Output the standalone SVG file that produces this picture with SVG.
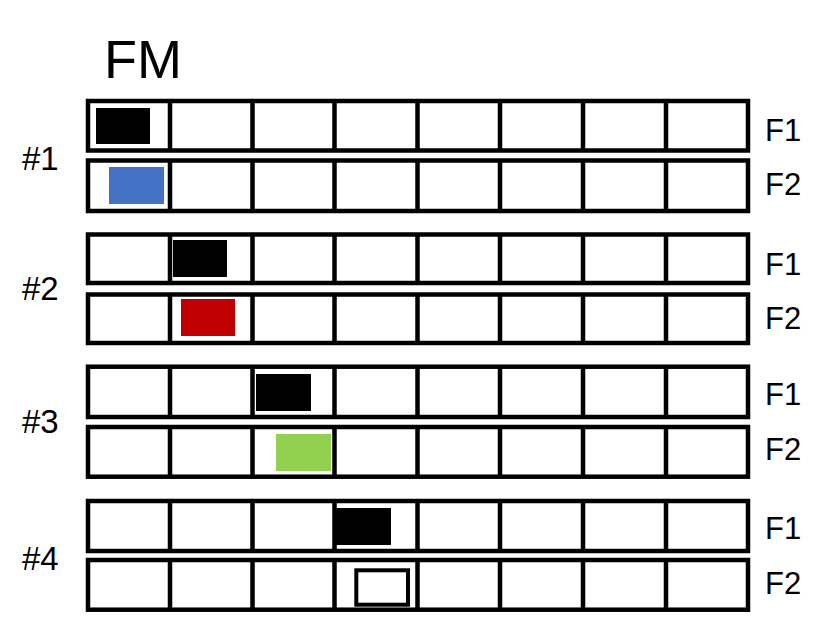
<svg xmlns="http://www.w3.org/2000/svg" width="824" height="628" viewBox="0 0 824 628">
<style>
.row{fill:#fff;stroke:#000;stroke-width:4.5}
.div{stroke:#000;stroke-width:4.5;fill:none}
.t{font-family:"Liberation Sans",Arial,sans-serif;fill:#000}
.lbl{font-size:31px}
.grp{font-size:33px}
</style>
<defs>
<path id="dv" d="M170 0V50M252.5 0V50M334.5 0V50M417.5 0V50M500 0V50M583 0V50M666 0V50" class="div"/>
</defs>
<rect width="824" height="628" fill="#fff"/>
<text class="t" x="104" y="78" font-size="54">FM</text>

<g id="g1">
  <g id="g1f1"><rect class="row" x="88" y="101" width="660" height="49.5"/><use href="#dv" transform="translate(0,101) scale(1,0.99)"/></g>
  <g id="g1f2"><rect class="row" x="88" y="160.5" width="660" height="50.5"/><use href="#dv" transform="translate(0,160.5) scale(1,1.01)"/></g>
  <rect id="b1" x="96" y="108" width="54" height="36" fill="#000"/>
  <rect id="c1" x="109" y="167" width="55" height="37" fill="#4472C4"/>
  <text class="t grp" x="22" y="170">#1</text>
  <text class="t lbl" x="765" y="141">F1</text>
  <text class="t lbl" x="765" y="195">F2</text>
</g>

<g id="g2">
  <g id="g2f1"><rect class="row" x="88" y="234.5" width="660" height="48.5"/><use href="#dv" transform="translate(0,234.5) scale(1,0.97)"/></g>
  <g id="g2f2"><rect class="row" x="88" y="294.5" width="660" height="48.5"/><use href="#dv" transform="translate(0,294.5) scale(1,0.97)"/></g>
  <rect id="b2" x="173" y="240" width="54" height="37" fill="#000"/>
  <rect id="c2" x="181" y="299" width="54" height="37" fill="#C00000"/>
  <text class="t grp" x="22" y="300">#2</text>
  <text class="t lbl" x="765" y="275">F1</text>
  <text class="t lbl" x="765" y="329">F2</text>
</g>

<g id="g3">
  <g id="g3f1"><rect class="row" x="88" y="366.7" width="660" height="50.3"/><use href="#dv" transform="translate(0,366.7) scale(1,1.006)"/></g>
  <g id="g3f2"><rect class="row" x="88" y="427" width="660" height="49.7"/><use href="#dv" transform="translate(0,427) scale(1,0.994)"/></g>
  <rect id="b3" x="256" y="374" width="55" height="37" fill="#000"/>
  <rect id="c3" x="276" y="434" width="55" height="37" fill="#92D050"/>
  <text class="t grp" x="22" y="433">#3</text>
  <text class="t lbl" x="765" y="405">F1</text>
  <text class="t lbl" x="765" y="460">F2</text>
</g>

<g id="g4">
  <g id="g4f1"><rect class="row" x="88" y="501" width="660" height="50"/><use href="#dv" transform="translate(0,501)"/></g>
  <g id="g4f2"><rect class="row" x="88" y="560" width="660" height="49.7"/><use href="#dv" transform="translate(0,560) scale(1,0.994)"/></g>
  <rect id="b4" x="336" y="508" width="55" height="37" fill="#000"/>
  <rect id="c4" x="356.3" y="570.3" width="51.7" height="34.4" fill="#fff" stroke="#000" stroke-width="4"/>
  <text class="t grp" x="22" y="570">#4</text>
  <text class="t lbl" x="765" y="539">F1</text>
  <text class="t lbl" x="765" y="594">F2</text>
</g>
<g id="connectors"/>
</svg>
